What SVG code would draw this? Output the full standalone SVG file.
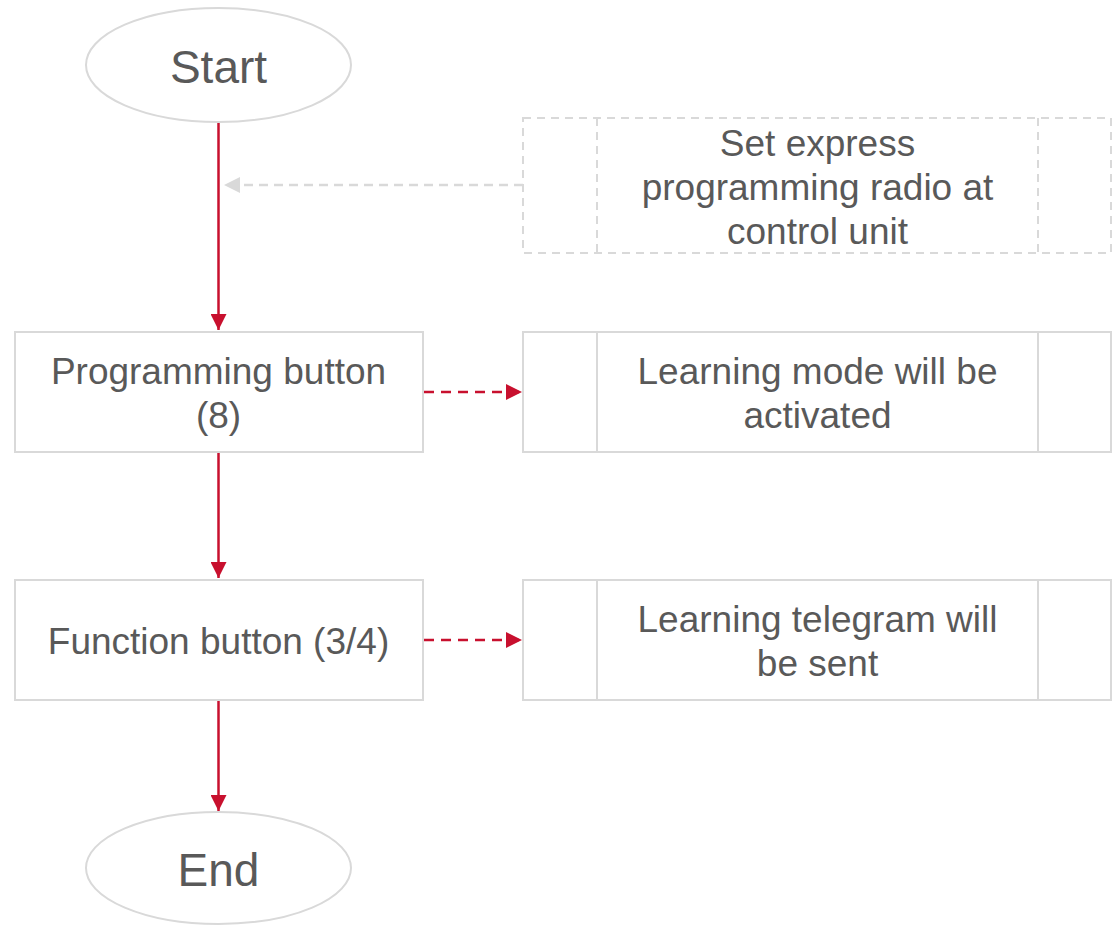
<svg xmlns="http://www.w3.org/2000/svg" width="1116" height="925" viewBox="0 0 1116 925">
<defs>
<style>
.box{fill:#fff;stroke:#d9d9d9;stroke-width:2}
.dbox{fill:#fff;stroke:#d9d9d9;stroke-width:2;stroke-dasharray:8,6}
.sep{stroke:#d9d9d9;stroke-width:2}
.dsep{stroke:#d9d9d9;stroke-width:2;stroke-dasharray:8,6}
.t{font-family:"Liberation Sans",Arial,sans-serif;fill:#595959;text-anchor:middle;font-size:37px}
.big{font-size:46px}
.red{stroke:#c8102e;stroke-width:2.5;fill:none}
.reddash{stroke:#c8102e;stroke-width:2.5;fill:none;stroke-dasharray:10,7}
.grey{stroke:#d9d9d9;stroke-width:2.5;fill:none;stroke-dasharray:9,6}
</style>
<marker id="ar" viewBox="0 0 10 10" refX="10" refY="5" markerWidth="16" markerHeight="16" markerUnits="userSpaceOnUse" orient="auto"><path d="M0,0L10,5L0,10z" fill="#c8102e"/></marker>
<marker id="ag" viewBox="0 0 10 10" refX="10" refY="5" markerWidth="16" markerHeight="16" markerUnits="userSpaceOnUse" orient="auto"><path d="M0,0L10,5L0,10z" fill="#d9d9d9"/></marker>
</defs>
<g id="connectors">
<line class="red" x1="218.5" y1="122" x2="218.5" y2="330" marker-end="url(#ar)"/>
<line class="red" x1="218.5" y1="452" x2="218.5" y2="578" marker-end="url(#ar)"/>
<line class="red" x1="218.5" y1="700" x2="218.5" y2="811" marker-end="url(#ar)"/>
<line class="reddash" x1="424" y1="392" x2="522" y2="392" marker-end="url(#ar)"/>
<line class="reddash" x1="424" y1="640" x2="522" y2="640" marker-end="url(#ar)"/>
<line class="grey" x1="523" y1="185" x2="224" y2="185" marker-end="url(#ag)"/>
</g>
<g id="start">
<ellipse class="box" cx="218.5" cy="65" rx="132.5" ry="57"/>
<text class="t big" x="218.5" y="83">Start</text>
</g>
<g id="setExpress">
<rect class="dbox" x="523" y="118" width="588" height="135"/>
<line class="dsep" x1="597" y1="118" x2="597" y2="253"/>
<line class="dsep" x1="1038" y1="118" x2="1038" y2="253"/>
<text class="t" x="817.5" y="156">Set express</text>
<text class="t" x="817.5" y="200">programming radio at</text>
<text class="t" x="817.5" y="244">control unit</text>
</g>
<g id="progButton">
<rect class="box" x="15" y="332" width="408" height="120"/>
<text class="t" x="218.5" y="384">Programming button</text>
<text class="t" x="218.5" y="428">(8)</text>
</g>
<g id="learningMode">
<rect class="box" x="523" y="332" width="588" height="120"/>
<line class="sep" x1="597" y1="332" x2="597" y2="452"/>
<line class="sep" x1="1038" y1="332" x2="1038" y2="452"/>
<text class="t" x="817.5" y="384">Learning mode will be</text>
<text class="t" x="817.5" y="428">activated</text>
</g>
<g id="funcButton">
<rect class="box" x="15" y="580" width="408" height="120"/>
<text class="t" x="218.5" y="654">Function button (3/4)</text>
</g>
<g id="learningTelegram">
<rect class="box" x="523" y="580" width="588" height="120"/>
<line class="sep" x1="597" y1="580" x2="597" y2="700"/>
<line class="sep" x1="1038" y1="580" x2="1038" y2="700"/>
<text class="t" x="817.5" y="632">Learning telegram will</text>
<text class="t" x="817.5" y="676">be sent</text>
</g>
<g id="end">
<ellipse class="box" cx="218.5" cy="868" rx="132.5" ry="56"/>
<text class="t big" x="218.5" y="886">End</text>
</g>
</svg>
